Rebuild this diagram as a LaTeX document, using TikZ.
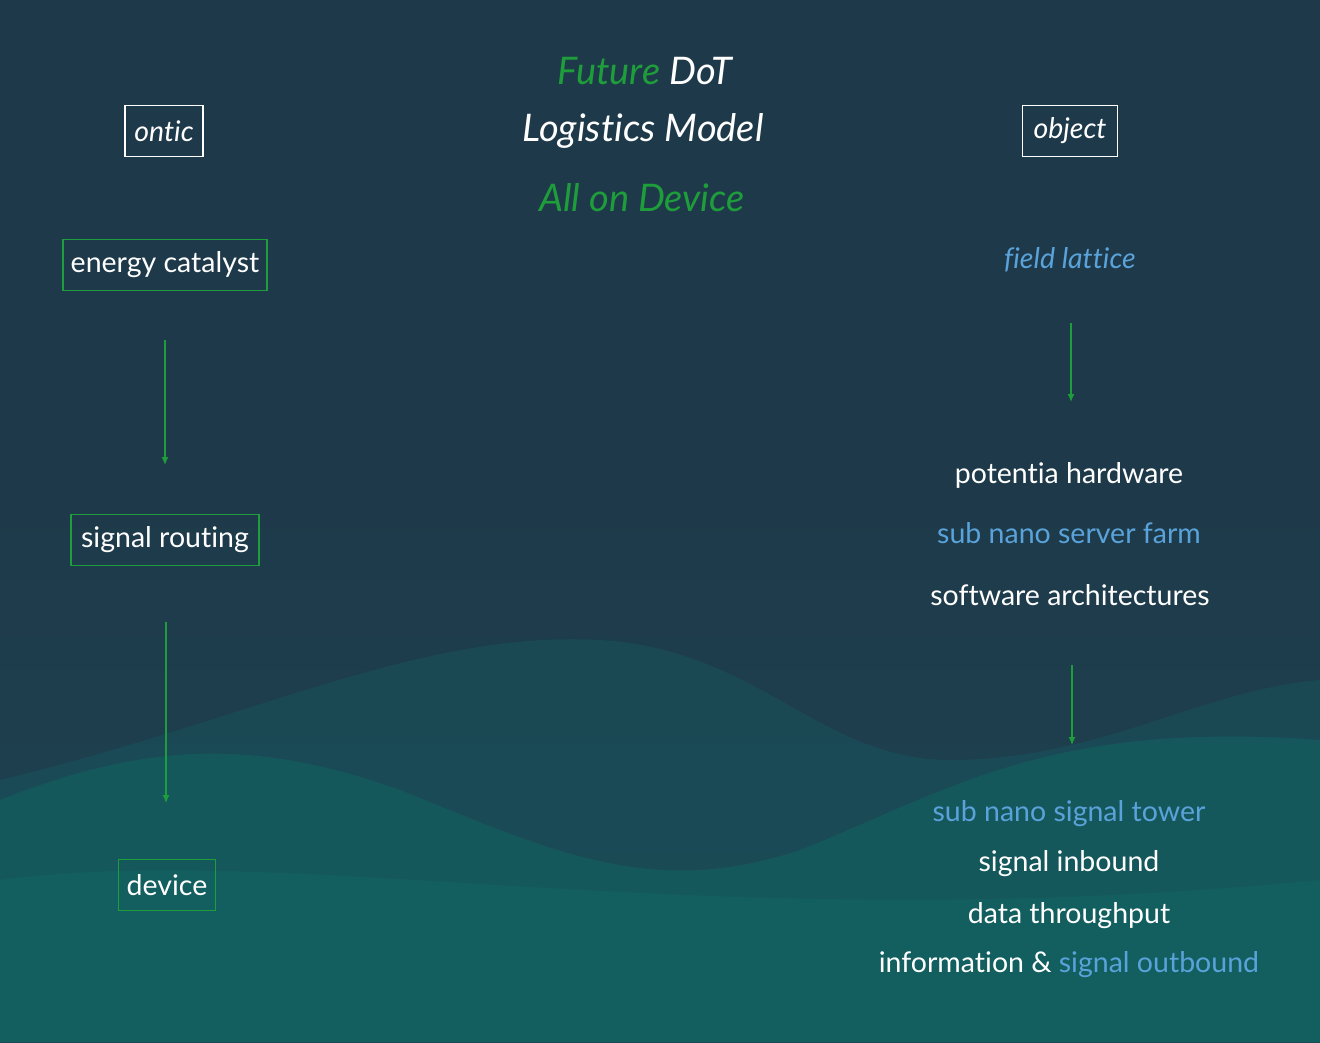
\documentclass[tikz,border=0pt]{standalone}
\usepackage{fontspec}
\setmainfont[Ligatures={NoCommon}]{Lato}
\usetikzlibrary{arrows.meta}
\definecolor{bgtop}{HTML}{1E3A4A}
\definecolor{bgmid}{HTML}{1D4452}
\definecolor{wavea}{HTML}{17585E}
\definecolor{waveb}{HTML}{126462}
\definecolor{dgreen}{HTML}{1E9E3A}
\definecolor{lblue}{HTML}{5AA2DA}
\tikzset{
  x=1pt,y=-1pt,
  lbl/.style={text=white,font=\fontsize{28.5}{32}\selectfont,inner sep=0pt},
  title/.style={text=white,font=\fontsize{38}{44}\selectfont\itshape,inner sep=0pt},
  whitebox/.style={draw=white,line width=1.2pt,text=white,font=\fontsize{28.5}{32}\selectfont\itshape,minimum height=51pt,inner xsep=2pt},
  greenbox/.style={draw=dgreen,line width=1.2pt,text=white,font=\fontsize{28.5}{32}\selectfont,minimum height=51pt,inner xsep=2pt},
  flow/.style={draw=dgreen,line width=1.3pt,-{Latex[length=8pt,width=7pt]}},
}
\begin{document}
\begin{tikzpicture}
\useasboundingbox (0,0) rectangle (1320,1042);
% background
\fill[bgtop] (0,0) rectangle (1320,1042);
\shade[top color=bgtop,bottom color=bgmid] (0,500) rectangle (1320,1042);
\fill[wavea,opacity=0.45] (0,780) .. controls (250,720) and (420,630) .. (600,640)
  .. controls (760,650) and (820,760) .. (950,760)
  .. controls (1100,760) and (1200,690) .. (1320,680) -- (1320,1042) -- (0,1042) -- cycle;
\fill[waveb,opacity=0.55] (0,800) .. controls (150,740) and (260,740) .. (400,790)
  .. controls (550,850) and (650,900) .. (800,850)
  .. controls (950,790) and (1050,720) .. (1320,740) -- (1320,1042) -- (0,1042) -- cycle;
\fill[waveb,opacity=0.5] (0,880) .. controls (300,840) and (700,940) .. (1320,880) -- (1320,1042) -- (0,1042) -- cycle;

% titles
\node[title] (t1) at (645,71) {\textcolor{dgreen}{Future} DoT};
\node[title] (t2) at (643,131) {Logistics Model};
\node[title,text=dgreen] (t3) at (642,198) {All on Device};

% left column
\node[whitebox,minimum width=78pt] (ontic) at (164,131) {ontic};
\node[greenbox,minimum width=204pt] (energy) at (165,265) {energy catalyst};
\node[greenbox,minimum width=188pt] (routing) at (165,540) {signal routing};
\node[greenbox,minimum width=97pt] (device) at (167,885) {device};
\coordinate (a1s) at (165,340);
\coordinate (a1e) at (165,465);
\coordinate (a2s) at (166,622);
\coordinate (a2e) at (166,803);
\draw[flow] (a1s) -- (a1e);
\draw[flow] (a2s) -- (a2e);

% right column
\node[whitebox,minimum width=95pt] (object) at (1070,131) {object};
\node[lbl,text=lblue,font=\fontsize{28.5}{32}\selectfont\itshape] (field) at (1070,260) {field lattice};
\node[lbl] (pot) at (1069,475) {potentia hardware};
\node[lbl,text=lblue] (farm) at (1069,533) {sub nano server farm};
\node[lbl] (soft) at (1070,595) {software architectures};
\node[lbl,text=lblue] (tower) at (1069,814) {sub nano signal tower};
\node[lbl] (inb) at (1069,864) {signal inbound};
\node[lbl] (thr) at (1069,916) {data throughput};
\node[lbl] (outb) at (1069,965) {information \& \textcolor{lblue}{signal outbound}};
\coordinate (a3s) at (1071,323);
\coordinate (a3e) at (1071,402);
\coordinate (a4s) at (1072,665);
\coordinate (a4e) at (1072,745);
\draw[flow] (a3s) -- (a3e);
\draw[flow] (a4s) -- (a4e);
\end{tikzpicture}
\end{document}
